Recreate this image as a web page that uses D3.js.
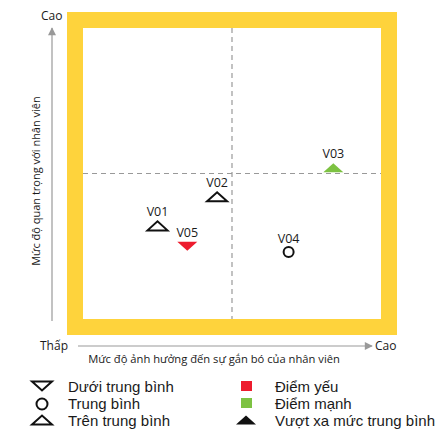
<!DOCTYPE html>
<html>
<head>
<meta charset="utf-8">
<script src="https://cdn.jsdelivr.net/npm/d3@7"></script>
<style>
  body { margin: 0; background: #fff; }
  text { font-family: "Open Sans", "Noto Sans", sans-serif; fill: #1a1a1a; }
  .legend text { font-family: "Liberation Sans", Arial, sans-serif; }
</style>
</head>
<body>
<svg id="chart"></svg>
<script>
// data
const labels = ['V01', 'V02', 'V03', 'V04', 'V05'];
const xValues = [2.5, 4.5, 8.4, 6.9, 3.5];
const yValues = [3.2, 4.2, 5.2, 2.3, 2.5];
const levels = ['above', 'above', 'far', 'avg', 'below'];
const groups = ['none', 'none', 'strong', 'none', 'weak'];

const legendShapes = ['Dưới trung bình', 'Trung bình', 'Trên trung bình'];
const legendGroups = ['Điểm yếu', 'Điểm mạnh', 'Vượt xa mức trung bình'];

const xTitle = 'Mức độ ảnh hưởng đến sự gắn bó của nhân viên';
const yTitle = 'Mức độ quan trọng với nhân viên';

const width = 445, height = 436;
const frame = {left: 67, top: 12, right: 397, bottom: 335, band: 16};

const svg = d3.select('#chart')
  .attr('width', width)
  .attr('height', height);

// scales map onto the white inner area
const xScale = d3.scaleLinear()
  .domain([0, 10])
  .range([frame.left + frame.band, frame.right - frame.band]);
const yScale = d3.scaleLinear()
  .domain([0, 10])
  .range([frame.bottom - frame.band, frame.top + frame.band]);

const colors = {none: '#fff', strong: '#7dc242', weak: '#ed1c2e'};

// yellow frame
svg.append('rect')
  .attr('x', frame.left + frame.band / 2)
  .attr('y', frame.top + frame.band / 2)
  .attr('width', frame.right - frame.left - frame.band)
  .attr('height', frame.bottom - frame.top - frame.band)
  .attr('fill', 'none')
  .attr('stroke', '#fed33c')
  .attr('stroke-width', frame.band);

// quadrant dashed lines
svg.append('line')
  .attr('x1', xScale(5)).attr('x2', xScale(5))
  .attr('y1', yScale(10)).attr('y2', yScale(0))
  .attr('stroke', '#999').attr('stroke-width', 1.2)
  .attr('stroke-dasharray', '5,4');
svg.append('line')
  .attr('x1', xScale(0)).attr('x2', xScale(10))
  .attr('y1', yScale(5)).attr('y2', yScale(5))
  .attr('stroke', '#999').attr('stroke-width', 1.2)
  .attr('stroke-dasharray', '5,4');

// arrows
const defs = svg.append('defs');
defs.append('marker')
  .attr('id', 'arrow')
  .attr('viewBox', '0 0 10 10')
  .attr('refX', 9).attr('refY', 5)
  .attr('markerWidth', 10).attr('markerHeight', 8)
  .attr('markerUnits', 'userSpaceOnUse')
  .attr('orient', 'auto')
  .append('path')
  .attr('d', 'M0,0L10,5L0,10Z')
  .attr('fill', '#999');

svg.append('line')
  .attr('x1', 52).attr('y1', 321)
  .attr('x2', 52).attr('y2', 28)
  .attr('stroke', '#999').attr('stroke-width', 1.2)
  .attr('marker-end', 'url(#arrow)');
svg.append('line')
  .attr('x1', 78).attr('y1', 346)
  .attr('x2', 372).attr('y2', 346)
  .attr('stroke', '#999').attr('stroke-width', 1.2)
  .attr('marker-end', 'url(#arrow)');

// axis end labels
svg.append('text').attr('x', 41).attr('y', 20).attr('font-size', 12).text('Cao');
svg.append('text').attr('x', 40).attr('y', 350).attr('font-size', 12).text('Thấp');
svg.append('text').attr('x', 375).attr('y', 350).attr('font-size', 12).text('Cao');

svg.append('text')
  .attr('x', 214).attr('y', 363)
  .attr('text-anchor', 'middle')
  .attr('font-size', 11.2)
  .text(xTitle);
svg.append('text')
  .attr('transform', 'translate(40,181) rotate(-90)')
  .attr('text-anchor', 'middle')
  .attr('font-size', 11)
  .text(yTitle);

// marker shapes
function shapePath(level, cx, cy) {
  const w = 10, h = 4.5;
  if (level === 'below') return `M${cx - w},${cy - h}L${cx + w},${cy - h}L${cx},${cy + h}Z`;
  return `M${cx - w},${cy + h}L${cx + w},${cy + h}L${cx},${cy - h}Z`;
}

const points = labels.map((d, i) => ({
  label: d, x: xValues[i], y: yValues[i], level: levels[i], group: groups[i]
}));

const pts = svg.append('g').selectAll('g')
  .data(points)
  .join('g');

pts.each(function(d) {
  const g = d3.select(this);
  const cx = xScale(d.x), cy = yScale(d.y);
  if (d.level === 'avg') {
    g.append('circle')
      .attr('cx', cx).attr('cy', cy).attr('r', 5)
      .attr('fill', '#fff').attr('stroke', '#111').attr('stroke-width', 2);
  } else if (d.group !== 'none') {
    g.append('path')
      .attr('d', shapePath(d.level, cx, cy))
      .attr('fill', colors[d.group]);
  } else {
    g.append('path')
      .attr('d', shapePath(d.level, cx, cy))
      .attr('fill', '#fff').attr('stroke', '#111')
      .attr('stroke-width', 2).attr('stroke-linejoin', 'miter');
  }
  g.append('text')
    .attr('x', cx).attr('y', cy - 9.5)
    .attr('text-anchor', 'middle')
    .attr('font-size', 12.5)
    .text(d.label);
});

// legend
const legY = [387, 404, 421];
const leg = svg.append('g').attr('class', 'legend');
legendShapes.forEach((t, i) => {
  const cy = legY[i];
  if (i === 1) {
    leg.append('circle').attr('cx', 42).attr('cy', cy).attr('r', 5.5)
      .attr('fill', 'none').attr('stroke', '#111').attr('stroke-width', 2);
  } else {
    leg.append('path').attr('d', shapePath(i === 0 ? 'below' : 'above', 42, cy - 1))
      .attr('fill', 'none').attr('stroke', '#111').attr('stroke-width', 2);
  }
  leg.append('text').attr('x', 68).attr('y', cy + 5).attr('font-size', 15).text(t);
});
legendGroups.forEach((t, i) => {
  const cy = legY[i];
  if (i < 2) {
    leg.append('rect').attr('x', 241).attr('y', cy - 6).attr('width', 11).attr('height', 10)
      .attr('fill', i === 0 ? colors.weak : colors.strong);
  } else {
    leg.append('path').attr('d', shapePath('above', 246, cy - 1)).attr('fill', '#111');
  }
  leg.append('text').attr('x', 275).attr('y', cy + 5).attr('font-size', 15).text(t);
});
</script>
</body>
</html>
